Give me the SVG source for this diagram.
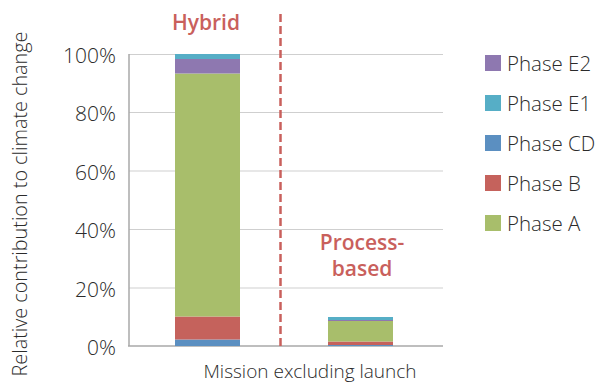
<svg xmlns="http://www.w3.org/2000/svg" width="598" height="383" viewBox="0 0 598 383">
<style>
text{font-family:"Open Sans","Noto Sans","Liberation Sans",sans-serif;fill:#2b2b2b;font-weight:300}
.tick{font-size:21px;text-anchor:end}
.leg{font-size:20.5px}
.grid{stroke:#cfcfcf;stroke-width:1}
.ttl{font-size:21px;font-weight:600;fill:#c9605c;text-anchor:middle}
.A{fill:#a8be6b}.B{fill:#c5625c}.CD{fill:#5b8fc1}.E1{fill:#56aec6}.E2{fill:#8e78b0}
</style>
<rect width="598" height="383" fill="#fff"/>
<g id="grid">
<line class="grid" x1="129" y1="54.5" x2="443" y2="54.5"/>
<line class="grid" x1="129" y1="112.5" x2="443" y2="112.5"/>
<line class="grid" x1="129" y1="171" x2="443" y2="171"/>
<line class="grid" x1="129" y1="229.5" x2="443" y2="229.5"/>
<line class="grid" x1="129" y1="288" x2="443" y2="288"/>
</g>
<g id="axes">
<line x1="129" y1="54" x2="129" y2="346" stroke="#a8a8a8" stroke-width="1.5"/>
<line x1="128" y1="346" x2="443" y2="346" stroke="#a8a8a8" stroke-width="1.5"/>
<text class="tick" x="116" y="63">100%</text>
<text class="tick" x="116" y="121">80%</text>
<text class="tick" x="116" y="180">60%</text>
<text class="tick" x="116" y="238">40%</text>
<text class="tick" x="116" y="297">20%</text>
<text class="tick" x="116" y="355">0%</text>
<text x="0" y="0" font-size="19.8" text-anchor="middle" transform="translate(27,204) rotate(-90)">Relative contribution to climate change</text>
<text x="310" y="378" font-size="19" text-anchor="middle">Mission excluding launch</text>
</g>
<g id="bar-hybrid">
<rect class="CD" x="175" y="339.5" width="65" height="6.5"/>
<rect class="B" x="175" y="316.5" width="65" height="23"/>
<rect class="A" x="175" y="73.5" width="65" height="243"/>
<rect class="E2" x="175" y="59" width="65" height="14.5"/>
<rect class="E1" x="175" y="54" width="65" height="5"/>
</g>
<g id="bar-process">
<rect class="CD" x="328" y="345" width="65" height="1"/>
<rect class="B" x="328" y="341.5" width="65" height="3.5"/>
<rect class="A" x="328" y="321" width="65" height="20.5"/>
<rect class="E2" x="328" y="320" width="65" height="1"/>
<rect class="E1" x="328" y="317" width="65" height="3"/>
</g>
<g id="connectors">
<line x1="280.5" y1="14" x2="280.5" y2="346" stroke="#c9605c" stroke-width="2.5" stroke-dasharray="8 4"/>
</g>
<g id="label-hybrid"><text class="ttl" x="206" y="30">Hybrid</text></g>
<g id="label-process"><text class="ttl" x="362" y="250">Process-</text><text class="ttl" x="362" y="276">based</text></g>
<g id="legend">
<rect class="E2" x="485" y="55" width="16" height="16"/><text class="leg" x="507" y="71">Phase E2</text>
<rect class="E1" x="485" y="95" width="16" height="16"/><text class="leg" x="507" y="111">Phase E1</text>
<rect class="CD" x="485" y="135" width="16" height="16"/><text class="leg" x="507" y="151">Phase CD</text>
<rect class="B" x="485" y="175" width="16" height="16"/><text class="leg" x="507" y="191">Phase B</text>
<rect class="A" x="485" y="215" width="16" height="16"/><text class="leg" x="507" y="231">Phase A</text>
</g>
</svg>
